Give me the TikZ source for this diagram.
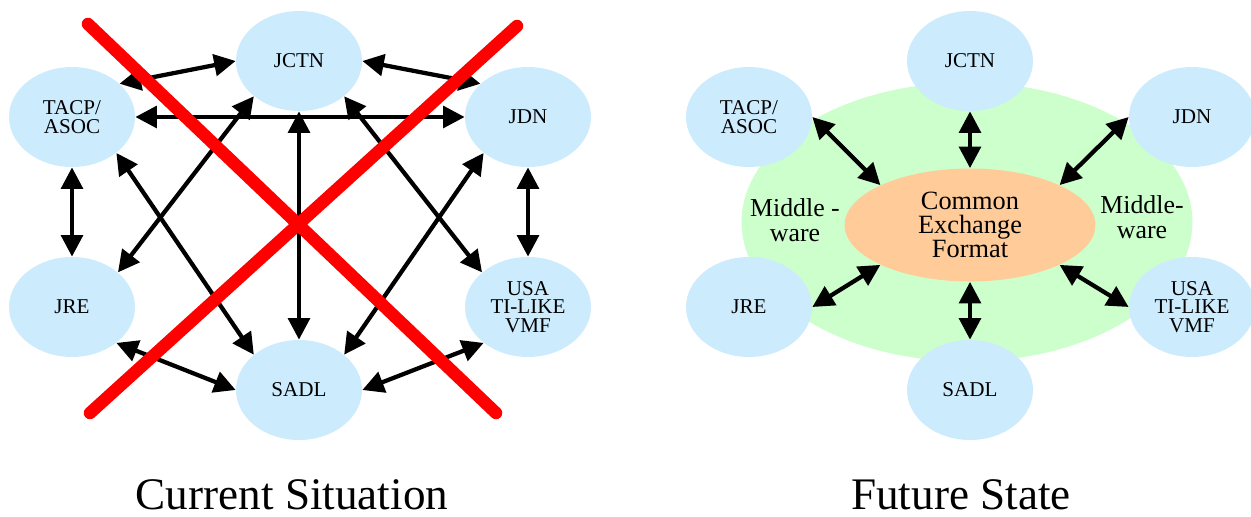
\documentclass[tikz,border=0pt]{standalone}
\usepackage{fontspec}
\setmainfont{Liberation Serif}
\usetikzlibrary{shapes.geometric,arrows.meta}
\definecolor{sysblue}{RGB}{204,235,253}
\definecolor{mwgreen}{RGB}{204,255,204}
\definecolor{cxorange}{RGB}{255,204,153}
\begin{document}
\begin{tikzpicture}[x=0.02cm, y=-0.02cm, main/.style = {ellipse, fill=sysblue, inner sep=0pt, minimum width=2.52cm, minimum height=2cm, align=center, font=\fontsize{12pt}{10.6pt}\selectfont}]
	\tikzset{edge/.style = {{Triangle[length=0.43cm,width=0.43cm]}-{Triangle[length=0.43cm,width=0.43cm]}, line width=0.085cm}}
	\useasboundingbox (0,0) rectangle (1251,517);

	% current situation
	\node[main] (jctn) at (299,61) {JCTN};
	\node[main] (tacp) at (72,117) {TACP/\\ASOC};
	\node[main] (jdn) at (528,117) {JDN};
	\node[main] (jre) at (72,307) {JRE};
	\node[main] (usa) at (528,307) {USA\\TI-LIKE\\VMF};
	\node[main] (sadl) at (299,390) {SADL};

	\draw[edge] (tacp.35) -- (jctn.180);
	\draw[edge] (jctn.0) -- (jdn.145);
	\draw[edge] (tacp.0) -- (jdn.180);
	\draw[edge] (jctn.270) -- (sadl.90);
	\draw[edge] (jctn.218) -- (jre.37);
	\draw[edge] (jctn.322) -- (usa.143);
	\draw[edge] (tacp.321) -- (sadl.142);
	\draw[edge] (jdn.219) -- (sadl.38);
	\draw[edge] (tacp.270) -- (jre.90);
	\draw[edge] (jdn.270) -- (usa.90);
	\draw[edge] (jre.321) -- (sadl.180);
	\draw[edge] (usa.219) -- (sadl.0);

	\draw[red, line width=0.25cm, line cap=round] (88,24) -- (496,413);
	\draw[red, line width=0.25cm, line cap=round] (517,26) -- (90,413);

	% future state
	\node[ellipse, fill=mwgreen, minimum width=9.02cm, minimum height=5.58cm] (mw) at (967,222) {};
	\node[ellipse, fill=cxorange, inner sep=0pt, minimum width=5.02cm, minimum height=2.26cm, align=center, font=\fontsize{15pt}{13.6pt}\selectfont] (cef) at (970,225) {Common\\Exchange\\Format};
	\node[align=center, font=\fontsize{14.7pt}{14.2pt}\selectfont] (mwl) at (795,220) {Middle -\\ware};
	\node[align=center, font=\fontsize{14.7pt}{14.2pt}\selectfont] (mwr) at (1142,217) {Middle-\\ware};

	\node[main] (jctn2) at (970,61) {JCTN};
	\node[main] (tacp2) at (749,117) {TACP/\\ASOC};
	\node[main] (jdn2) at (1192,117) {JDN};
	\node[main] (jre2) at (749,307) {JRE};
	\node[main] (usa2) at (1192,307) {USA\\TI-LIKE\\VMF};
	\node[main] (sadl2) at (970,390) {SADL};

	\draw[edge] (tacp2.0) -- (cef.156);
	\draw[edge] (jctn2.270) -- (cef.90);
	\draw[edge] (jdn2.180) -- (cef.24);
	\draw[edge] (jre2.0) -- (cef.204);
	\draw[edge] (sadl2.90) -- (cef.270);
	\draw[edge] (usa2.180) -- (cef.336);

	% captions
	\node[anchor=base, inner sep=0pt, font=\fontsize{25.7pt}{30pt}\selectfont] (cur) at (292,509) {Current Situation};
	\node[anchor=base, inner sep=0pt, font=\fontsize{25.7pt}{30pt}\selectfont] (fut) at (961,509) {Future State};
\end{tikzpicture}
\end{document}
